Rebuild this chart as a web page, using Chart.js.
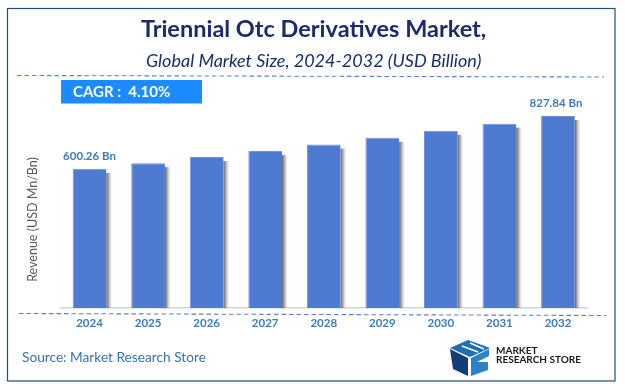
<!DOCTYPE html>
<html>
<head>
<meta charset="utf-8">
<script src="https://cdn.jsdelivr.net/npm/chart.js@4"></script>
<style>
html,body{margin:0;padding:0;background:#fff}
#wrap{position:relative;width:625px;height:392px;overflow:hidden}
canvas{display:block}
</style>
</head>
<body>
<div id="wrap"><canvas id="c" width="625" height="392"></canvas></div>
<script>
const categories = ["2024","2025","2026","2027","2028","2029","2030","2031","2032"];
const revenue = [600.26, 625, 651, 677, 705, 734, 764, 795, 827.84];
const valueLabels = {0:"600.26 Bn", 8:"827.84 Bn"};
const titleText = "Triennial Otc Derivatives Market,";
const subtitleText = "Global Market Size, 2024-2032 (USD Billion)";
const axisTitle = "Revenue (USD Mn/Bn)";
const cagrText = "CAGR :  4.10%";
const sourceText = "Source: Market Research Store";
const FONT = "Lato, Carlito, 'Open Sans', sans-serif";

const barShadow = {
  id:'barShadow',
  beforeDatasetsDraw(chart){
    const c=chart.ctx;
    chart.getDatasetMeta(0).data.forEach(el=>{
      const p=el.getProps(['x','y','width','base'],true);
      const r=p.x+p.width/2, top=p.y+4;
      const g=c.createLinearGradient(r,0,r+6,0);
      g.addColorStop(0,'rgba(85,85,85,0.95)');
      g.addColorStop(0.5,'rgba(150,150,150,0.6)');
      g.addColorStop(1,'rgba(220,220,220,0)');
      c.fillStyle=g;
      c.fillRect(r,top,6,p.base-top);
    });
  }
};

const decor = {
  id:'decor',
  beforeDraw(chart){
    const c=chart.ctx; c.save();
    c.fillStyle='#fff'; c.fillRect(0,0,625,392);
    c.strokeStyle='#1f4e79'; c.lineWidth=1.2; c.strokeRect(7.5,8.5,287.5+320,372.5);
    c.restore();
  },
  afterDatasetsDraw(chart){
    const c=chart.ctx, xs=chart.scales.x, ys=chart.scales.y;
    c.save();
    // dashed rules
    c.strokeStyle='#5b80cc'; c.lineWidth=1.1; c.setLineDash([4.5,3]);
    c.beginPath(); c.moveTo(17,75.5); c.lineTo(604,77); c.stroke();
    c.beginPath(); c.moveTo(19,313.5); c.lineTo(606,315.5); c.stroke();
    c.setLineDash([]);
    // CAGR box
    c.fillStyle='#1a8cff'; c.fillRect(61,80,141,23.5);
    c.fillStyle='#fff'; c.font="bold 15px "+FONT; c.textAlign='left'; c.textBaseline='middle';
    c.fillText(cagrText,73,92);
    // value labels
    c.font="bold 11.5px "+FONT; c.fillStyle='#3d7cb8'; c.textAlign='center'; c.textBaseline='alphabetic';
    Object.keys(valueLabels).forEach(k=>{
      const i=+k;
      c.fillText(valueLabels[k], xs.getPixelForValue(i)-(i===8?2:0), ys.getPixelForValue(revenue[i])-9);
    });
    // axis title
    c.save();
    c.translate(33,219.5); c.rotate(-Math.PI/2);
    c.font="12.5px "+FONT; c.fillStyle='#595959'; c.textAlign='center'; c.textBaseline='middle';
    c.fillText(axisTitle,0,0);
    c.restore();
    // source
    c.font="13.7px "+FONT; c.fillStyle='#3a70a8'; c.textAlign='left'; c.textBaseline='middle';
    c.fillText(sourceText,22,357.5);
    // logo
    c.translate(450,338);
    c.fillStyle='#1f6fb5';
    c.beginPath(); c.moveTo(0,10); c.lineTo(18,2); c.lineTo(40,10); c.lineTo(20,19); c.closePath(); c.fill();
    c.fillStyle='#123e78';
    c.beginPath(); c.moveTo(0,11); c.lineTo(18,20); c.lineTo(18,38); c.lineTo(3,31); c.closePath(); c.fill();
    c.fillStyle='#2a82c9';
    c.beginPath(); c.moveTo(21,20); c.lineTo(39,11); c.lineTo(39,18); c.lineTo(27,24); c.lineTo(38,24); c.lineTo(38,32); c.lineTo(21,38); c.closePath(); c.fill();
    c.strokeStyle='#fff'; c.lineWidth=1.6;
    c.beginPath(); c.moveTo(12,8); c.lineTo(28,14); c.moveTo(20,5); c.lineTo(34,11); c.stroke();
    c.fillStyle='#1a1a1a'; c.font="bold 10px "+FONT; c.textAlign='left'; c.textBaseline='middle';
    c.fillText("MARKET",46,13);
    c.fillText("RESEARCH STORE",46,22);
    c.restore();
  }
};

new Chart(document.getElementById('c'),{
  type:'bar',
  data:{labels:categories,datasets:[{data:revenue,backgroundColor:'#4e7bd1',borderColor:'#6f94dc',borderWidth:{top:1,left:1,right:0,bottom:0},borderSkipped:false,barPercentage:0.64,categoryPercentage:0.9}]},
  plugins:[decor,barShadow],
  options:{
    responsive:false,animation:false,
    layout:{padding:{left:40,right:37.75,top:15,bottom:53}},
    plugins:{
      legend:{display:false},tooltip:{enabled:false},
      title:{display:true,text:titleText,color:'#1c2a6e',font:{family:FONT,size:23.5,weight:'bold'},padding:{top:0,bottom:7}},
      subtitle:{display:true,text:subtitleText,color:'#1c2a6e',font:{family:FONT,size:18,style:'italic',weight:'normal'},padding:{top:0,bottom:27.5}}
    },
    scales:{
      x:{grid:{display:false,drawTicks:false},border:{display:true,color:'#d4d4d4',width:1.5},
         ticks:{color:'#3d7cb8',font:{family:FONT,size:11.5,weight:'bold'},padding:8.5,maxRotation:0}},
      y:{min:0,max:900,grid:{display:false,drawTicks:false},border:{display:false},ticks:{display:false},
         afterFit(s){s.width=20.25;}}
    }
  }
});
</script>
</body>
</html>
